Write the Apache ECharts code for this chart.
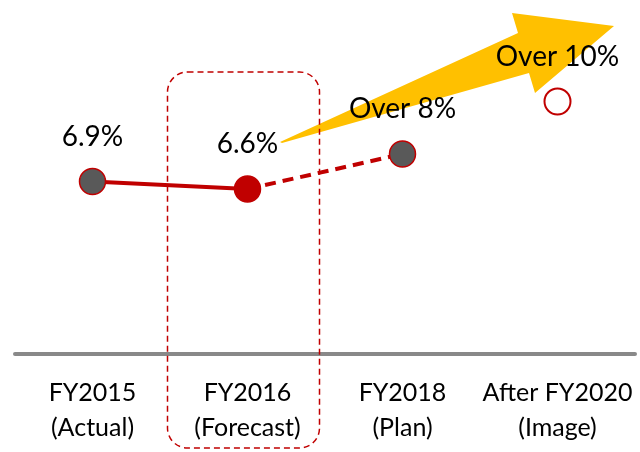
<!DOCTYPE html>
<html>
<head>
<meta charset="utf-8">
<script src="https://cdn.jsdelivr.net/npm/echarts@6/dist/echarts.min.js"></script>
<style>html,body{margin:0;padding:0;background:#fff}#c{width:640px;height:452px}</style>
</head>
<body>
<div id="c"></div>
<script>
const categories = ['FY2015\n(Actual)', 'FY2016\n(Forecast)', 'FY2018\n(Plan)', 'After FY2020\n(Image)'];
const values = [6.9, 6.6, 8.0, 10.1];
const valueLabels = ['6.9%', '6.6%', 'Over 8%', 'Over 10%'];
const solidPart = [6.9, 6.6, null, null];
const dashedPart = [null, 6.6, 8.0, null];
const pointFills = ['#595959', '#C00000', '#595959', '#ffffff'];

const RED = '#C00000';
const FONT = 'Lato';
const chart = echarts.init(document.getElementById('c'));
const option = {
  animation: false,
  grid: {left: 15, right: 5, top: 4, bottom: 98},
  xAxis: {
    type: 'category', data: categories, boundaryGap: true,
    axisLine: {lineStyle: {color: '#898989', width: 4}},
    axisTick: {show: false},
    axisLabel: {fontFamily: FONT, fontSize: 25, lineHeight: 35, color: '#000', margin: 21, interval: 0}
  },
  yAxis: {type: 'value', min: 0, max: 14, show: false, splitLine: {show: false}},
  series: [
    {type: 'line', data: solidPart, symbol: 'none', lineStyle: {color: RED, width: 4}, z: 2},
    {type: 'line', data: dashedPart, symbol: 'none', lineStyle: {color: RED, width: 4, type: [11, 7]}, z: 2},
    {
      type: 'scatter', z: 3,
      data: values.map((v, i) => ({
        value: v,
        itemStyle: {color: pointFills[i], borderColor: RED, borderWidth: i === 3 ? 2 : 1.5, opacity: 1},
        symbolSize: 26
      })),
      label: {
        show: true, position: 'top', distance: 17,
        fontFamily: FONT, fontSize: 28, color: '#000',
        formatter: p => valueLabels[p.dataIndex]
      }
    }
  ]
};
chart.setOption(option);
const cx = chart.convertToPixel({xAxisIndex: 0}, categories[1]);
chart.setOption({
  graphic: [
    {type: 'rect', z: 1, shape: {x: cx - 80, y: 72, width: 152, height: 376, r: 20},
     style: {fill: 'none', stroke: RED, lineWidth: 1.5, lineDash: [6, 4]}},
    {type: 'polygon', z: 0, shape: {points: [[280, 142], [518, 33], [512, 13], [614, 26], [535, 93], [529, 73], [282, 143]]},
     style: {fill: '#FFC000'}}
  ]
});
</script>
</body>
</html>
